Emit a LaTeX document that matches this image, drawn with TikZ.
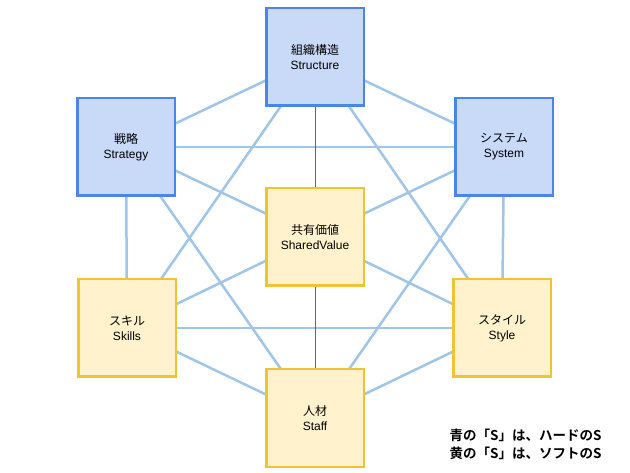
\documentclass[tikz,border=0pt]{standalone}
\usepackage{fontspec}
\setmainfont{Liberation Sans}
\newfontfamily\jpfont{Noto Sans CJK JP}[BoldFont={Noto Sans CJK JP Bold}]
\usetikzlibrary{backgrounds}

\definecolor{hardline}{HTML}{4A86E8}
\definecolor{hardfill}{HTML}{C9DAF8}
\definecolor{softline}{HTML}{F1C232}
\definecolor{softfill}{HTML}{FFF2CC}
\definecolor{linkblue}{HTML}{9FC5E8}

\begin{document}
\begin{tikzpicture}[x=1pt,y=-1pt,
  sbox/.style={line width=2.5pt, minimum width=97.5pt, minimum height=97.5pt, align=center, font=\fontsize{12}{15}\selectfont},
  hard/.style={sbox, draw=hardline, fill=hardfill},
  soft/.style={sbox, draw=softline, fill=softfill},
  link/.style={draw=linkblue, line width=2.5pt},
  axis/.style={draw=black!60, line width=1pt}]
\useasboundingbox (0,0) rectangle (630,473);

\node[hard] (structure) at (315,57) {{\jpfont 組織構造}\\Structure};
\node[hard] (strategy) at (126,147) {{\jpfont 戦略}\\Strategy};
\node[hard] (system) at (504,147) {{\jpfont システム}\\System};
\node[soft] (shared) at (315,237) {{\jpfont 共有価値}\\SharedValue};
\node[soft] (skills) at (127,328) {{\jpfont スキル}\\Skills};
\node[soft] (style) at (502,328) {{\jpfont スタイル}\\Style};
\node[soft] (staff) at (315,418) {{\jpfont 人材}\\Staff};

% every S is linked to every other S
\begin{pgfonlayer}{background}
\foreach \a/\b in {structure/strategy, structure/system, structure/skills, structure/style,
                   strategy/system, strategy/skills, strategy/staff, strategy/shared,
                   system/style, system/staff, system/shared,
                   skills/style, skills/staff, skills/shared,
                   style/staff, style/shared}
  \draw[link] (\a.center) -- (\b.center);
\draw[axis] (structure.center) -- (staff.center);
\end{pgfonlayer}

\node[anchor=east, align=right, font=\jpfont\bfseries\fontsize{13.5}{18}\selectfont] (legend) at (605,444)
  {青の「S」は、ハードのS\\黄の「S」は、ソフトのS};
\end{tikzpicture}
\end{document}
